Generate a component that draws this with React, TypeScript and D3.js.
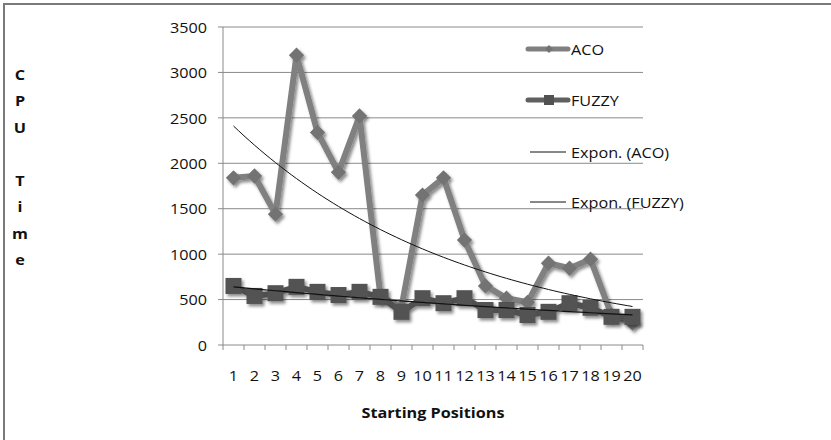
import React from "react";
import * as d3 from "d3";

const positions = d3.range(1, 21);
const acoValues = [1840, 1860, 1440, 3190, 2340, 1900, 2520, 530, 420, 1650, 1840, 1155, 650, 515, 470, 900, 845, 945, 330, 240];
const fuzzyValues = [650, 540, 570, 640, 585, 550, 585, 530, 365, 515, 460, 515, 385, 385, 330, 365, 460, 410, 310, 310];
const yTicks = [0, 500, 1000, 1500, 2000, 2500, 3000, 3500];
const yTitle = ["C", "P", "U", "", "T", "i", "m", "e"];
const legendItems = ["ACO", "FUZZY", "Expon. (ACO)", "Expon. (FUZZY)"];

const W = 831;
const H = 440;
const plot = { left: 223, right: 643, top: 27, bottom: 345 };
const FONT = "'Open Sans', Lato, sans-serif";
const SX = 1.08; // the source is stretched sideways

// Excel-style exponential trend: least squares on ln(y)
function expFit(xs: number[], ys: number[]) {
  const ly = ys.map((v) => Math.log(v));
  const mx = d3.mean(xs)!;
  const my = d3.mean(ly)!;
  const sxy = d3.sum(xs, (x, i) => (x - mx) * (ly[i] - my));
  const sxx = d3.sum(xs, (x) => (x - mx) * (x - mx));
  const b = sxy / sxx;
  const a = my - b * mx;
  return (x: number) => Math.exp(a + b * x);
}

function T({ x, y, children, anchor = "middle", bold = false, size = 15 }: any) {
  return (
    <text
      transform={`translate(${x},${y}) scale(${SX},1)`}
      textAnchor={anchor}
      dominantBaseline="central"
      fontFamily={FONT}
      fontSize={size}
      fontWeight={bold ? "bold" : "normal"}
      fill="#111"
    >
      {children}
    </text>
  );
}

export default function App() {
  const x = d3.scaleBand<number>().domain(positions).range([plot.left, plot.right]);
  const y = d3.scaleLinear().domain([0, 3500]).range([plot.bottom, plot.top]);
  const cx = (p: number) => x(p)! + x.bandwidth() / 2;

  const line = d3
    .line<number>()
    .x((_, i) => cx(positions[i]))
    .y((v) => y(v));

  const acoTrend = expFit(positions, acoValues);
  const fuzzyTrend = expFit(positions, fuzzyValues);
  const trendXs = d3.range(1, 20.01, 0.25);
  const trendLine = (f: (v: number) => number) =>
    d3
      .line<number>()
      .x((p) => cx(1) + (p - 1) * x.step())
      .y((p) => y(f(p)))(trendXs)!;

  const diamond = d3.symbol(d3.symbolDiamond2, 150)()!;
  const legendY = [49, 100, 152, 202];

  return (
    <svg width={W} height={H} style={{ position: "absolute", left: 0, top: 0, background: "#fff" }}>
      <defs>
        <filter id="sh" x="-50%" y="-50%" width="200%" height="200%">
          <feDropShadow dx="2" dy="2.5" stdDeviation="1.6" floodColor="#000" floodOpacity="0.45" />
        </filter>
      </defs>
      <rect x={0} y={0} width={W} height={H} fill="#fff" />
      <line x1={3} x2={W} y1={4} y2={4} stroke="#7a7a7a" strokeWidth={2} />
      <line x1={4} x2={4} y1={3} y2={H} stroke="#7a7a7a" strokeWidth={2} />

      {/* gridlines */}
      {yTicks.map((t) => (
        <g key={t}>
          {t > 0 && <line x1={plot.left} x2={plot.right} y1={y(t)} y2={y(t)} stroke="#8a8a8a" strokeWidth={1} />}
          <line x1={plot.left - 5} x2={plot.left} y1={y(t)} y2={y(t)} stroke="#8a8a8a" />
          <T x={207} y={y(t)} anchor="end">{t}</T>
        </g>
      ))}
      <line x1={plot.left} x2={plot.left} y1={plot.top} y2={plot.bottom} stroke="#8a8a8a" />
      <line x1={plot.left} x2={plot.right} y1={plot.bottom} y2={plot.bottom} stroke="#8a8a8a" />
      {d3.range(0, 21).map((i) => (
        <line key={i} x1={plot.left + i * x.step()} x2={plot.left + i * x.step()} y1={plot.bottom} y2={plot.bottom + 5} stroke="#8a8a8a" />
      ))}
      {positions.map((p) => (
        <T key={p} x={cx(p)} y={375}>{p}</T>
      ))}

      {/* ACO */}
      <g filter="url(#sh)">
        <path d={line(acoValues)!} fill="none" stroke="#808080" strokeWidth={6} strokeLinejoin="round" />
        {acoValues.map((v, i) => (
          <path key={i} d={diamond} transform={`translate(${cx(positions[i])},${y(v)})`} fill="#737373" />
        ))}
      </g>

      {/* FUZZY */}
      <g filter="url(#sh)">
        <path d={line(fuzzyValues)!} fill="none" stroke="#505050" strokeWidth={6} strokeLinejoin="round" />
        {fuzzyValues.map((v, i) => (
          <rect key={i} x={cx(positions[i]) - 8} y={y(v) - 8} width={16} height={16} fill="#525252" />
        ))}
      </g>

      {/* trendlines */}
      <path d={trendLine(acoTrend)} fill="none" stroke="#111" strokeWidth={1} />
      <path d={trendLine(fuzzyTrend)} fill="none" stroke="#111" strokeWidth={1.2} />

      {/* legend */}
      <g>
        <line x1={528} x2={568} y1={legendY[0]} y2={legendY[0]} stroke="#808080" strokeWidth={5} strokeLinecap="round" />
        <path d={d3.symbol(d3.symbolDiamond2, 40)()!} transform={`translate(549,${legendY[0]})`} fill="#737373" />
        <line x1={528} x2={568} y1={legendY[1]} y2={legendY[1]} stroke="#606060" strokeWidth={5} strokeLinecap="round" />
        <rect x={544} y={legendY[1] - 5} width={10} height={10} fill="#525252" />
        <line x1={530} x2={566} y1={legendY[2]} y2={legendY[2]} stroke="#111" strokeWidth={1} />
        <line x1={530} x2={566} y1={legendY[3]} y2={legendY[3]} stroke="#111" strokeWidth={1} />
        {legendItems.map((s, i) => (
          <T key={s} x={571} y={legendY[i]} anchor="start">{s}</T>
        ))}
      </g>

      {/* axis titles */}
      {yTitle.map((c, i) => (
        <T key={i} x={20} y={74 + i * 26.5} bold>{c}</T>
      ))}
      <T x={433} y={412} bold>Starting Positions</T>
    </svg>
  );
}
